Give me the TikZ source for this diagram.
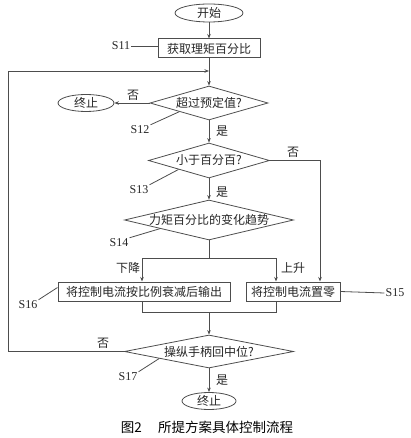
\documentclass[tikz,border=0pt]{standalone}
\usepackage{fontspec}
\setmainfont{Liberation Serif}
\newfontfamily\cjk{Noto Sans CJK SC}
\usetikzlibrary{shapes.geometric,arrows.meta,calc}
\definecolor{LineGray}{HTML}{4D4D4D}
\definecolor{TextDark}{HTML}{262626}

\begin{document}
\begin{tikzpicture}[x=1pt,y=-1pt, every node/.style={font=\fontsize{12}{14}\selectfont, text=TextDark},
  flow/.style={draw=LineGray, line width=0.8pt},
  arr/.style={flow, -{Stealth[length=4.5pt,width=3.5pt]}},
  oval/.style={ellipse, draw=LineGray, line width=0.8pt, inner sep=0pt},
  stepbox/.style={rectangle, draw=LineGray, line width=1pt, minimum height=19pt, inner sep=0pt},
  choice/.style={diamond, draw=LineGray, line width=0.8pt, inner sep=0pt},
  tag/.style={inner sep=1pt}]
  \useasboundingbox (0,0) rectangle (411,438);
  \node[oval, minimum width=68pt, minimum height=18pt] (start) at (209,13) {\cjk 开始};
  \node[stepbox, minimum width=102pt] (fetch) at (209,48.5) {\cjk 获取理矩百分比};
  \node[choice, minimum width=118pt, minimum height=34pt] (over) at (209,103) {\makebox[0pt]{\cjk 超过预定值?}};
  \node[oval, minimum width=56pt, minimum height=17pt] (stopA) at (86,103) {\cjk 终止};
  \node[choice, minimum width=121pt, minimum height=35pt] (below) at (209,160.5) {\makebox[0pt]{\cjk 小于百分百?}};
  \node[choice, minimum width=169pt, minimum height=40pt] (trend) at (209,220) {\makebox[0pt]{\cjk 力矩百分比的变化趋势}};
  \node[stepbox, minimum width=172pt] (scale) at (144,291.5) {\cjk 将控制电流按比例衰减后输出};
  \node[stepbox, minimum width=94pt] (zero) at (293,291.5) {\cjk 将控制电流置零};
  \node[choice, minimum width=169pt, minimum height=33pt] (center) at (209,351.5) {\makebox[0pt]{\cjk 操纵手柄回中位?}};
  \node[oval, minimum width=54pt, minimum height=17pt] (stopB) at (209,401) {\cjk 终止};
  \coordinate (loopin) at (209,71);
  \coordinate (loopcorner) at (8,71);
  \coordinate (nobend) at (320,160.5);
  \coordinate (split) at (209,258);
  \coordinate (fallL) at (142,258);
  \coordinate (riseR) at (276,258);
  \coordinate (joinL) at (142,312);
  \coordinate (joinR) at (276,312);
  \coordinate (merge) at (209,312);
  \draw[arr] (start) -- (fetch);
  \draw[arr] (fetch) -- (over);
  \draw[arr] (center.west) -| (loopcorner) -- (loopin);
  \draw[arr] (over) -- (stopA);
  \draw[arr] (over) -- (below);
  \draw[arr] (below.east) -- (nobend) -- (nobend |- zero.north);
  \draw[arr] (below) -- (trend);
  \draw[flow] (trend.south) -- (split);
  \draw[arr] (split) -- (fallL) -- (fallL |- scale.north);
  \draw[arr] (split) -- (riseR) -- (riseR |- zero.north);
  \draw[flow] (joinL |- scale.south) -- (joinL) -- (joinR) -- (joinR |- zero.south);
  \draw[arr] (merge) -- (center);
  \draw[arr] (center) -- (stopB);
  \node[tag] (noA) at (133,95) {\cjk 否};
  \node[tag] (yesA) at (222,131) {\cjk 是};
  \node[tag] (noB) at (293,152) {\cjk 否};
  \node[tag] (yesB) at (222,192) {\cjk 是};
  \node[tag] (fall) at (128,268) {\cjk 下降};
  \node[tag] (rise) at (293,268) {\cjk 上升};
  \node[tag] (noC) at (103,343) {\cjk 否};
  \node[tag] (yesC) at (222,380) {\cjk 是};
  \node[tag] (s11) at (121,46) {S11};
  \node[tag] (s12) at (140,130) {S12};
  \node[tag] (s13) at (139,190) {S13};
  \node[tag] (s14) at (119,243) {S14};
  \node[tag] (s15) at (395,293) {S15};
  \node[tag] (s16) at (28,305) {S16};
  \node[tag] (s17) at (128,377) {S17};
  \draw[flow] (s11.east) -- (s11.east -| fetch.west);
  \draw[flow] (s12.north east) -- (over.south west);
  \draw[flow] (s13.north east) -- (below.south west);
  \draw[flow] (s14.north east) -- (trend.190);
  \draw[flow] (zero.east) -- (s15.west);
  \draw[flow] (s16.north east) -- ($(scale.north west)!0.3!(scale.south west)$);
  \draw[flow] (s17.north east) -- (center.188);
  \node[font=\fontsize{13.5}{16}\selectfont\cjk, text=black] (caption) at (207,427) {图2\hspace{1.2em}所提方案具体控制流程};
\end{tikzpicture}
\end{document}
